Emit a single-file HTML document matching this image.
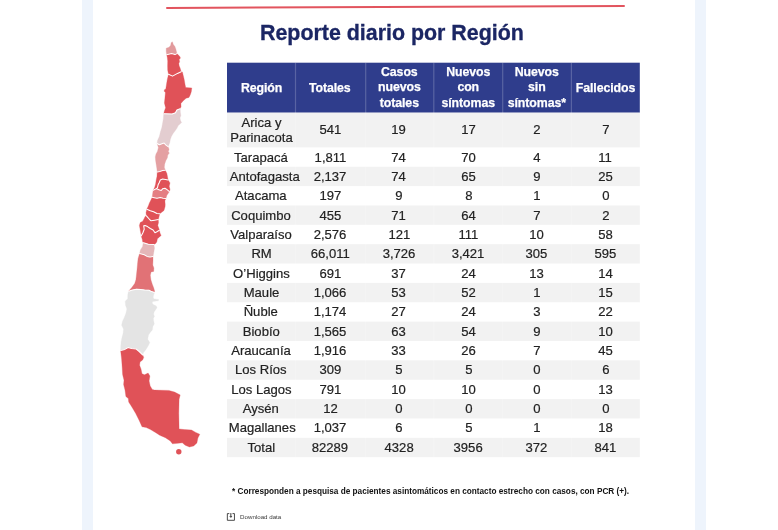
<!DOCTYPE html>
<html lang="es">
<head>
<meta charset="utf-8">
<title>Reporte diario por Región</title>
<style>
html,body{margin:0;padding:0;}
body{width:778px;height:530px;position:relative;overflow:hidden;background:#fff;
 font-family:"Liberation Sans",Arial,sans-serif;color:#222;}
.band{position:absolute;top:0;height:530px;background:#eef4fc;}
.redline{position:absolute;left:166px;top:7.25px;width:458.6px;height:1.8px;background:#e2545e;
 transform-origin:0 50%;transform:rotate(-0.265deg);border-radius:1px;}
h1{-webkit-text-stroke:0.3px #1b2664;will-change:transform;position:absolute;left:0;top:0;margin:0;font-weight:bold;color:#1b2664;white-space:nowrap;
 font-size:21.4px;line-height:24px;left:260.1px;top:21.1px;letter-spacing:0;}
#map{position:absolute;left:0;top:0;width:778px;height:530px;}
.row{position:absolute;left:227px;width:412.8px;}
.hd{position:absolute;left:227px;top:62.7px;width:412.8px;height:50px;}
.c{will-change:transform;position:absolute;top:0;height:100%;display:flex;align-items:center;justify-content:center;text-align:center;white-space:nowrap;}
.hd .c{color:#fff;-webkit-text-stroke:0.25px #fff;font-weight:bold;font-size:13.5px;line-height:15.6px;letter-spacing:-0.1px;}
.hd .c > span{display:inline-block;position:relative;top:0px;transform:scaleX(0.915);}
.row .c{font-size:13.6px;line-height:15.4px;color:#222;-webkit-text-stroke:0.2px #222;}
.row .c > span{display:inline-block;transform:scaleX(0.963);}
.note{will-change:transform;position:absolute;left:232.4px;top:487px;margin:0;font-weight:bold;font-size:8.23px;line-height:10px;color:#111;white-space:nowrap;}
.dl{will-change:transform;position:absolute;left:239.8px;top:513.2px;font-size:6.2px;line-height:8px;color:#3a3a3a;white-space:nowrap;text-decoration:none;}
.dlicon{position:absolute;left:226px;top:512px;width:10px;height:10px;}
</style>
</head>
<body>
<div class="band" style="left:82px;width:11px"></div>
<div class="band" style="left:695px;width:11px"></div>
<div class="redline"></div>
<h1>Reporte diario por Región</h1>
<svg id="map" viewBox="0 0 778 530">
<g><rect x="227.0" y="62.7" width="412.8" height="50.0" fill="#2f3d8c"/>
<rect x="227.0" y="112.70" width="412.8" height="34.70" fill="#f2f2f2"/>
<rect x="227.0" y="166.76" width="412.8" height="19.36" fill="#f2f2f2"/>
<rect x="227.0" y="205.48" width="412.8" height="19.36" fill="#f2f2f2"/>
<rect x="227.0" y="244.20" width="412.8" height="19.36" fill="#f2f2f2"/>
<rect x="227.0" y="282.92" width="412.8" height="19.36" fill="#f2f2f2"/>
<rect x="227.0" y="321.64" width="412.8" height="19.36" fill="#f2f2f2"/>
<rect x="227.0" y="360.36" width="412.8" height="19.36" fill="#f2f2f2"/>
<rect x="227.0" y="399.08" width="412.8" height="19.36" fill="#f2f2f2"/>
<rect x="227.0" y="437.80" width="412.8" height="19.36" fill="#f2f2f2"/>
<rect x="294.9" y="62.7" width="1.2" height="394.5" fill="#fff" fill-opacity="0.2"/>
<rect x="365.1" y="62.7" width="1.2" height="394.5" fill="#fff" fill-opacity="0.2"/>
<rect x="433.2" y="62.7" width="1.2" height="394.5" fill="#fff" fill-opacity="0.2"/>
<rect x="502.1" y="62.7" width="1.2" height="394.5" fill="#fff" fill-opacity="0.2"/>
<rect x="570.8" y="62.7" width="1.2" height="394.5" fill="#fff" fill-opacity="0.2"/></g>
<g stroke-linejoin="round">
<polygon fill="#e29a9c" stroke="#e29a9c" stroke-width="0.3" points="172.4,41.8 173.3,44.4 174.9,46.5 175.8,49 176.9,53.6 175,54.6 171.6,53.6 166.7,54.7 166.2,51.6 166.2,48.2 169,47.3 170.7,45.2 171.1,42.7"/>
<polygon fill="#e05258" stroke="#e05258" stroke-width="0.3" points="166.7,54.7 171.6,53.6 175,54.6 176.9,53.6 179.6,56.3 180.5,57.9 179.2,59.6 179.6,61.8 178.8,63.5 179.2,66 180,67.7 181.2,71.7 177.5,73.4 172.5,76.1 168.5,74.2 167.7,70.3 167.6,66 167.7,60.9 167.3,57.5"/>
<polygon fill="#e05258" stroke="#e05258" stroke-width="0.3" points="168.5,74.2 172.5,76.1 177.5,73.4 181.2,71.7 182.4,71.9 183.3,75.7 184.2,79.4 185,84.2 185.7,87.5 191.8,87.9 191.3,91.7 190.4,94.5 189,97.4 186.1,98.3 183.3,100.7 180.9,103.5 181.1,106.6 180.2,108.7 176.9,110 175.5,112.8 172.2,114.1 163.7,113.8 164.4,111 165.6,107.7 164.4,103 164.9,98.3 165.4,92.6 164.2,91.2 164.4,89.8 165.8,88.9 166.5,84.2 167.3,79.4 168.2,75.7"/>
<polygon fill="#e3cdd0" stroke="#e3cdd0" stroke-width="0.3" points="163.7,113.8 172.2,114.1 175.5,112.8 176.9,110 180.2,108.7 180.4,112.3 180.9,115.6 180,117.9 180.4,120.3 181.6,122.6 180,124.1 178.3,125.5 176.9,128.3 175,131.1 173.1,133.5 171.5,136.3 170.3,139.6 169.8,142.5 168.1,146.7 165.7,144.8 164.1,143 161.9,143.7 159.3,144.8 157.1,143.5 157.5,140.6 159.4,136.3 160.4,132.1 161.8,127.4 162.7,122.6 163.4,118.4"/>
<polygon fill="#e4a0a2" stroke="#e4a0a2" stroke-width="0.3" points="157.1,143.5 159.3,144.8 161.9,143.7 164.1,143 165.7,144.8 168.1,146.7 169.1,149.3 168.3,151.7 169.4,153.1 167.8,155 167.4,157.8 165.9,160.6 164.7,163.9 164.3,167.2 165.3,170.2 162.6,170.5 159.8,171.4 157.2,172 156.8,168.2 156.2,164.4 155.6,160.6 155.3,156.9 156,154 157.5,151.2 158.4,147.4"/>
<polygon fill="#e05258" stroke="#e05258" stroke-width="0.3" points="157.2,172 159.8,171.4 162.6,170.5 165.3,170.2 166.9,173.5 167.5,176.8 168.1,180 165.5,179.4 162.6,179 160.3,180 159.3,182.5 158.1,184.8 157.5,187.6 156.4,188.6 153.2,190.3 154.6,187.6 155.6,183.9 156.2,180.1 157,176.3"/>
<polygon fill="#e05258" stroke="#e05258" stroke-width="0.3" points="156.4,188.6 157.5,187.6 158.1,184.8 159.3,182.5 160.3,180 162.6,179 165.5,179.4 168.1,180 170,182.9 169.2,186.2 170,189.5 169.4,191.6 167.4,189.9 165,188.3 162.6,188.8 161.2,190.5 158.9,189.8 156.4,188.6"/>
<polygon fill="#e47e82" stroke="#e47e82" stroke-width="0.3" points="153.2,190.3 156.4,188.6 158.9,189.8 161.2,190.5 162.6,188.8 165,188.3 167.4,189.9 169.4,191.6 168.3,193.3 166.9,195.2 165.9,198.4 163.1,198.2 160.3,197.5 157,198.2 154.2,197.7 152.2,197.3 152.7,193.3"/>
<polygon fill="#e05258" stroke="#e05258" stroke-width="0.3" points="152.2,197.3 154.2,197.7 157,198.2 160.3,197.5 163.1,198.2 165.9,198.4 164.9,200.8 165.2,204.6 165.1,206.6 164,210.4 161.1,212.7 159.7,213.7 156.9,213.5 153.6,211.8 150.3,210.8 146.8,209.3 148.4,205.7 149.4,203 150.3,201.3"/>
<polygon fill="#e05258" stroke="#e05258" stroke-width="0.3" points="146.8,209.3 150.3,210.8 153.6,211.8 156.9,213.5 159.7,213.7 159.1,216.5 158.3,219.5 154.5,220.2 151.1,220.8 149.6,219.5 148,217.7 146.4,215.8 146,212.7"/>
<polygon fill="#e05258" stroke="#e05258" stroke-width="0.3" points="146.4,215.8 148,217.7 149.6,219.5 151.1,220.8 154.5,220.2 158.3,219.5 158.5,222.6 157.8,225.5 158.8,228.3 159.4,230.3 156.9,231.8 155,232.8 153.1,230 150.3,228.5 147.5,226.6 145.1,225.5 143.7,225.8 144.2,229.3 142.9,232.7 141.3,235.8 140.6,232.1 139.9,228.3 139.4,225.5 140.2,222.6 142.7,221.2 144.2,218.4 145.1,216.5"/>
<polygon fill="#e05258" stroke="#e05258" stroke-width="0.3" points="141.3,235.8 142.9,232.7 144.2,229.3 143.7,225.8 145.1,225.5 147.5,226.6 150.3,228.5 153.1,230 155,232.8 156.9,231.8 159.4,230.3 160,233 161.1,235.4 159.2,237.3 157.4,238.7 156.9,241.5 156,243.2 153.9,244.5 148.3,244.2 144.3,243 143.2,242.8 142.6,241.4 142.3,239.6 141.3,236.3"/>
<polygon fill="#e4b6b8" stroke="#e4b6b8" stroke-width="0.3" points="143.2,242.8 144.3,243 148.3,244.2 153.9,244.5 154.5,248.2 153.7,252.7 153,256.5 150,256.9 147.1,256.4 144.3,254.7 139.6,253.5 140.4,249.9 142.6,246.5"/>
<polygon fill="#e17276" stroke="#e17276" stroke-width="0.3" points="139.6,253.5 144.3,254.7 147.1,256.4 150,256.9 153,256.5 153,260.6 152.8,265.1 153.9,268 153.7,271.4 151.1,271.9 150.3,275.3 150.9,279.8 152.3,284.2 153.6,287.6 154.6,291 154.4,292.5 151.5,291.6 149,290.3 144.7,290 140.5,289.5 136.5,289.2 132.5,290.1 128.6,291.2 132,287.2 134.7,283.6 135.9,279.8 136.4,275.3 137,269.7 137.5,264 138.1,258.4"/>
<polygon fill="#e4e4e4" stroke="#e4e4e4" stroke-width="0.3" points="128.6,291.2 132.5,290.1 136.5,289.2 140.5,289.5 144.7,290 149,290.3 151.5,291.6 154.4,292.5 153.4,296.1 153.2,297.8 154.3,298.9 158.6,299.6 158.4,300.7 152.6,301.5 152.2,303 153.2,304.4 156.2,305.9 157,307.6 155.7,309.7 154.2,311.8 153.6,314 154.5,316.5 153.4,318.2 153.6,320.7 154.3,323.9 152.8,326.5 152.4,329.9 150.2,332.4 148.5,335 147.7,339.2 149.8,342.6 148.1,346 146,349.4 143.4,352.8 142.8,355 139.2,351.5 136.2,349 131.6,348.6 128.2,347.5 124.8,349.4 120.6,350.4 120.8,346 121.1,341.8 122,337.5 123.1,333.3 123.5,329 121.6,325.3 122.4,321.6 124.3,317.4 126,313.1 126.9,308.9 125.6,305.5 125.2,301.2 127.7,298.7 127.7,295.3 128.2,292.5"/>
<polygon fill="#e05258" stroke="#e05258" stroke-width="0.3" points="120.6,350.4 124.8,349.4 128.2,347.5 131.6,348.6 136.2,349 139.2,351.5 142.8,355 143.7,357.5 142.6,360 140,362 139.6,365.3 141,368.9 142,373.8 144.5,374.8 148.1,373.1 149.9,376 149.1,380.9 150.2,385.9 152.3,389.4 154.5,390.1 168.9,390.4 174.6,392.1 180.2,394.9 179.1,399.2 178.8,413.3 179.1,428.9 184.5,429.6 191.5,430 195.8,432.4 199.8,434.3 197.9,438.1 196.9,443.1 193.7,445.9 189.4,447 185.2,445.2 182.3,442.8 178.1,443.3 172.4,443.8 170.3,440.9 165.4,437.7 159.7,435.3 155.4,432.4 150.5,429.6 146.2,427.5 142,426.8 139.2,420.4 135.6,413.3 131.4,406.2 128.7,402.1 128.3,398.6 125.9,396.5 125,390.1 123.6,384.5 124,380.2 122.6,374.5 122.2,367.5 121.6,359"/>
<circle fill="#e05258" cx="178.8" cy="451.8" r="2.7"/>
</g>
<g fill="none" stroke="#fff" stroke-width="1.05" stroke-linejoin="round" stroke-linecap="round">
<polyline points="166.7,54.7 171.6,53.6 175,54.6 176.9,53.6"/>
<polyline points="168.5,74.2 172.5,76.1 177.5,73.4 181.2,71.7"/>
<polyline points="163.7,113.8 172.2,114.1 175.5,112.8 176.9,110 180.2,108.7"/>
<polyline points="157.1,143.5 159.3,144.8 161.9,143.7 164.1,143 165.7,144.8 168.1,146.7"/>
<polyline points="157.2,172 159.8,171.4 162.6,170.5 165.3,170.2"/>
<polyline points="168.1,180 165.5,179.4 162.6,179 160.3,180 159.3,182.5 158.1,184.8 157.5,187.6 156.4,188.6"/>
<polyline points="153.2,190.3 156.4,188.6 158.9,189.8 161.2,190.5 162.6,188.8 165,188.3 167.4,189.9 169.4,191.6"/>
<polyline points="152.2,197.3 154.2,197.7 157,198.2 160.3,197.5 163.1,198.2 165.9,198.4"/>
<polyline points="146.8,209.3 150.3,210.8 153.6,211.8 156.9,213.5 159.7,213.7"/>
<polyline points="146.4,215.8 148,217.7 149.6,219.5 151.1,220.8 154.5,220.2 158.3,219.5"/>
<polyline points="141.3,235.8 142.9,232.7 144.2,229.3 143.7,225.8 145.1,225.5 147.5,226.6 150.3,228.5 153.1,230 155,232.8 156.9,231.8 159.4,230.3"/>
<polyline points="143.2,242.8 144.3,243 148.3,244.2 153.9,244.5"/>
<polyline points="139.6,253.5 144.3,254.7 147.1,256.4 150,256.9 153,256.5"/>
<polyline points="128.6,291.2 132.5,290.1 136.5,289.2 140.5,289.5 144.7,290 149,290.3 151.5,291.6 154.4,292.5"/>
<polyline points="120.6,350.4 124.8,349.4 128.2,347.5 131.6,348.6 136.2,349 139.2,351.5 142.8,355"/>
</g>
</svg>
<div class="hd"><div class="c" style="left:0.0px;width:68.2px"><span>Región</span></div><div class="c" style="left:68.2px;width:70.2px"><span>Totales</span></div><div class="c" style="margin-top:-1px;left:138.4px;width:68.1px"><span>Casos<br>nuevos<br>totales</span></div><div class="c" style="margin-top:-1px;left:206.5px;width:68.9px"><span>Nuevos<br>con<br>síntomas</span></div><div class="c" style="margin-top:-1px;left:275.4px;width:68.7px"><span>Nuevos<br>sin<br>síntomas*</span></div><div class="c" style="left:344.1px;width:68.7px"><span>Fallecidos</span></div></div>
<div class="row g" style="top:112.70px;height:34.70px"><div class="c" style="left:0.0px;width:68.2px"><span>Arica y<br>Parinacota</span></div><div class="c" style="margin-top:-1px;left:68.2px;width:70.2px"><span>541</span></div><div class="c" style="margin-top:-1px;left:138.4px;width:68.1px"><span>19</span></div><div class="c" style="margin-top:-1px;left:206.5px;width:68.9px"><span>17</span></div><div class="c" style="margin-top:-1px;left:275.4px;width:68.7px"><span>2</span></div><div class="c" style="margin-top:-1px;left:344.1px;width:68.7px"><span>7</span></div></div>
<div class="row" style="top:148.40px;height:19.36px"><div class="c" style="left:0.0px;width:68.2px"><span>Tarapacá</span></div><div class="c" style="left:68.2px;width:70.2px"><span>1,811</span></div><div class="c" style="left:138.4px;width:68.1px"><span>74</span></div><div class="c" style="left:206.5px;width:68.9px"><span>70</span></div><div class="c" style="left:275.4px;width:68.7px"><span>4</span></div><div class="c" style="left:344.1px;width:68.7px"><span>11</span></div></div>
<div class="row g" style="top:166.76px;height:19.36px"><div class="c" style="left:0.0px;width:68.2px"><span><span style="position:relative;left:3.6px">Antofagasta</span></span></div><div class="c" style="left:68.2px;width:70.2px"><span>2,137</span></div><div class="c" style="left:138.4px;width:68.1px"><span>74</span></div><div class="c" style="left:206.5px;width:68.9px"><span>65</span></div><div class="c" style="left:275.4px;width:68.7px"><span>9</span></div><div class="c" style="left:344.1px;width:68.7px"><span>25</span></div></div>
<div class="row" style="top:186.12px;height:19.36px"><div class="c" style="left:0.0px;width:68.2px"><span>Atacama</span></div><div class="c" style="left:68.2px;width:70.2px"><span>197</span></div><div class="c" style="left:138.4px;width:68.1px"><span>9</span></div><div class="c" style="left:206.5px;width:68.9px"><span>8</span></div><div class="c" style="left:275.4px;width:68.7px"><span>1</span></div><div class="c" style="left:344.1px;width:68.7px"><span>0</span></div></div>
<div class="row g" style="top:206.48px;height:19.36px"><div class="c" style="left:0.0px;width:68.2px"><span>Coquimbo</span></div><div class="c" style="left:68.2px;width:70.2px"><span>455</span></div><div class="c" style="left:138.4px;width:68.1px"><span>71</span></div><div class="c" style="left:206.5px;width:68.9px"><span>64</span></div><div class="c" style="left:275.4px;width:68.7px"><span>7</span></div><div class="c" style="left:344.1px;width:68.7px"><span>2</span></div></div>
<div class="row" style="top:224.84px;height:19.36px"><div class="c" style="left:0.0px;width:68.2px"><span>Valparaíso</span></div><div class="c" style="left:68.2px;width:70.2px"><span>2,576</span></div><div class="c" style="left:138.4px;width:68.1px"><span>121</span></div><div class="c" style="left:206.5px;width:68.9px"><span>111</span></div><div class="c" style="left:275.4px;width:68.7px"><span>10</span></div><div class="c" style="left:344.1px;width:68.7px"><span>58</span></div></div>
<div class="row g" style="top:244.20px;height:19.36px"><div class="c" style="left:0.0px;width:68.2px"><span>RM</span></div><div class="c" style="left:68.2px;width:70.2px"><span>66,011</span></div><div class="c" style="left:138.4px;width:68.1px"><span>3,726</span></div><div class="c" style="left:206.5px;width:68.9px"><span>3,421</span></div><div class="c" style="left:275.4px;width:68.7px"><span>305</span></div><div class="c" style="left:344.1px;width:68.7px"><span>595</span></div></div>
<div class="row" style="top:263.56px;height:19.36px"><div class="c" style="left:0.0px;width:68.2px"><span>O’Higgins</span></div><div class="c" style="left:68.2px;width:70.2px"><span>691</span></div><div class="c" style="left:138.4px;width:68.1px"><span>37</span></div><div class="c" style="left:206.5px;width:68.9px"><span>24</span></div><div class="c" style="left:275.4px;width:68.7px"><span>13</span></div><div class="c" style="left:344.1px;width:68.7px"><span>14</span></div></div>
<div class="row g" style="top:282.92px;height:19.36px"><div class="c" style="left:0.0px;width:68.2px"><span>Maule</span></div><div class="c" style="left:68.2px;width:70.2px"><span>1,066</span></div><div class="c" style="left:138.4px;width:68.1px"><span>53</span></div><div class="c" style="left:206.5px;width:68.9px"><span>52</span></div><div class="c" style="left:275.4px;width:68.7px"><span>1</span></div><div class="c" style="left:344.1px;width:68.7px"><span>15</span></div></div>
<div class="row" style="top:302.28px;height:19.36px"><div class="c" style="left:0.0px;width:68.2px"><span>Ñuble</span></div><div class="c" style="left:68.2px;width:70.2px"><span>1,174</span></div><div class="c" style="left:138.4px;width:68.1px"><span>27</span></div><div class="c" style="left:206.5px;width:68.9px"><span>24</span></div><div class="c" style="left:275.4px;width:68.7px"><span>3</span></div><div class="c" style="left:344.1px;width:68.7px"><span>22</span></div></div>
<div class="row g" style="top:321.64px;height:19.36px"><div class="c" style="left:0.0px;width:68.2px"><span>Biobío</span></div><div class="c" style="left:68.2px;width:70.2px"><span>1,565</span></div><div class="c" style="left:138.4px;width:68.1px"><span>63</span></div><div class="c" style="left:206.5px;width:68.9px"><span>54</span></div><div class="c" style="left:275.4px;width:68.7px"><span>9</span></div><div class="c" style="left:344.1px;width:68.7px"><span>10</span></div></div>
<div class="row" style="top:341.00px;height:19.36px"><div class="c" style="left:0.0px;width:68.2px"><span>Araucanía</span></div><div class="c" style="left:68.2px;width:70.2px"><span>1,916</span></div><div class="c" style="left:138.4px;width:68.1px"><span>33</span></div><div class="c" style="left:206.5px;width:68.9px"><span>26</span></div><div class="c" style="left:275.4px;width:68.7px"><span>7</span></div><div class="c" style="left:344.1px;width:68.7px"><span>45</span></div></div>
<div class="row g" style="top:360.36px;height:19.36px"><div class="c" style="left:0.0px;width:68.2px"><span>Los Ríos</span></div><div class="c" style="left:68.2px;width:70.2px"><span>309</span></div><div class="c" style="left:138.4px;width:68.1px"><span>5</span></div><div class="c" style="left:206.5px;width:68.9px"><span>5</span></div><div class="c" style="left:275.4px;width:68.7px"><span>0</span></div><div class="c" style="left:344.1px;width:68.7px"><span>6</span></div></div>
<div class="row" style="top:379.72px;height:19.36px"><div class="c" style="left:0.0px;width:68.2px"><span>Los Lagos</span></div><div class="c" style="left:68.2px;width:70.2px"><span>791</span></div><div class="c" style="left:138.4px;width:68.1px"><span>10</span></div><div class="c" style="left:206.5px;width:68.9px"><span>10</span></div><div class="c" style="left:275.4px;width:68.7px"><span>0</span></div><div class="c" style="left:344.1px;width:68.7px"><span>13</span></div></div>
<div class="row g" style="top:399.08px;height:19.36px"><div class="c" style="left:0.0px;width:68.2px"><span>Aysén</span></div><div class="c" style="left:68.2px;width:70.2px"><span>12</span></div><div class="c" style="left:138.4px;width:68.1px"><span>0</span></div><div class="c" style="left:206.5px;width:68.9px"><span>0</span></div><div class="c" style="left:275.4px;width:68.7px"><span>0</span></div><div class="c" style="left:344.1px;width:68.7px"><span>0</span></div></div>
<div class="row" style="top:418.44px;height:19.36px"><div class="c" style="left:0.0px;width:68.2px"><span><span style="position:relative;left:1.5px">Magallanes</span></span></div><div class="c" style="left:68.2px;width:70.2px"><span>1,037</span></div><div class="c" style="left:138.4px;width:68.1px"><span>6</span></div><div class="c" style="left:206.5px;width:68.9px"><span>5</span></div><div class="c" style="left:275.4px;width:68.7px"><span>1</span></div><div class="c" style="left:344.1px;width:68.7px"><span>18</span></div></div>
<div class="row g" style="top:437.80px;height:19.36px"><div class="c" style="left:0.0px;width:68.2px"><span>Total</span></div><div class="c" style="left:68.2px;width:70.2px"><span>82289</span></div><div class="c" style="left:138.4px;width:68.1px"><span>4328</span></div><div class="c" style="left:206.5px;width:68.9px"><span>3956</span></div><div class="c" style="left:275.4px;width:68.7px"><span>372</span></div><div class="c" style="left:344.1px;width:68.7px"><span>841</span></div></div>
<p class="note">* Corresponden a pesquisa de pacientes asintomáticos en contacto estrecho con casos, con PCR (+).</p>
<svg class="dlicon" viewBox="0 0 10 10"><path d="M3.3 1.6H1.35v6.7h7.1V1.6H6.5" fill="none" stroke="#2a2a2a" stroke-width="0.85"/><path d="M4.85 1.1v4M3.85 4.2l1 1.15 1-1.15" fill="none" stroke="#2a2a2a" stroke-width="0.95"/></svg>
<a class="dl">Download data</a>
</body>
</html>
